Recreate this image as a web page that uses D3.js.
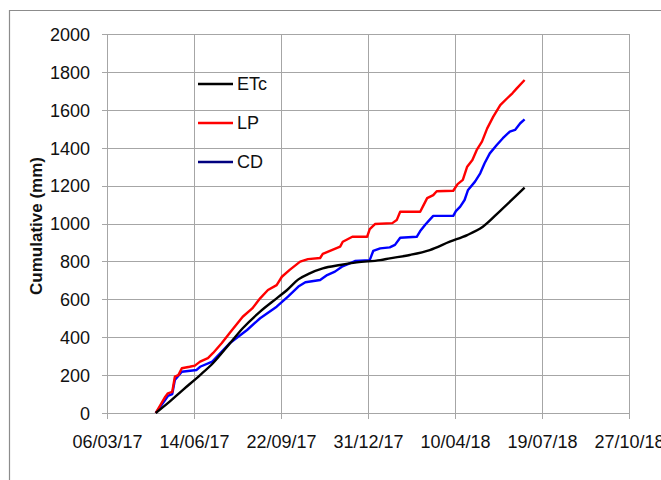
<!DOCTYPE html>
<html>
<head>
<meta charset="utf-8">
<script src="https://cdn.jsdelivr.net/npm/d3@7"></script>
<style>
  body { margin: 0; background: #fff; }
  svg text { font-family: "Liberation Sans Narrow", "Liberation Sans", sans-serif; fill: #111; }
</style>
</head>
<body>
<div id="chart"></div>
<script>
// values
const xTicks = ["2017-03-06", "2017-06-14", "2017-09-22", "2017-12-31", "2018-04-10", "2018-07-19", "2018-10-27"];
const yTicks = [0, 200, 400, 600, 800, 1000, 1200, 1400, 1600, 1800, 2000];
const seriesNames = ["ETc", "LP", "CD"];

const etc = [
  ["2017-05-01", 0], ["2017-05-17", 60], ["2017-06-01", 121], ["2017-06-21", 200], ["2017-07-06", 264],
  ["2017-07-25", 366], ["2017-08-09", 447], ["2017-08-29", 535], ["2017-09-17", 605], ["2017-09-29", 649],
  ["2017-10-12", 705], ["2017-10-25", 737], ["2017-11-09", 763], ["2017-11-29", 781], ["2017-12-18", 795],
  ["2018-01-14", 807], ["2018-01-25", 816], ["2018-02-17", 834], ["2018-03-12", 860], ["2018-04-04", 904],
  ["2018-04-24", 939], ["2018-05-12", 983], ["2018-06-01", 1067], ["2018-06-29", 1189]
];

const lp = [
  ["2017-05-01", 0], ["2017-05-12", 86], ["2017-05-15", 104], ["2017-05-20", 112], ["2017-05-23", 192],
  ["2017-05-27", 200], ["2017-05-31", 236], ["2017-06-09", 244], ["2017-06-15", 250], ["2017-06-21", 271],
  ["2017-06-30", 290], ["2017-07-06", 317], ["2017-07-16", 369], ["2017-07-25", 422], ["2017-08-09", 508],
  ["2017-08-20", 552], ["2017-08-29", 605], ["2017-09-07", 649], ["2017-09-17", 675], ["2017-09-23", 719],
  ["2017-10-02", 755], ["2017-10-14", 799], ["2017-10-23", 812], ["2017-11-06", 818], ["2017-11-09", 840],
  ["2017-11-29", 878], ["2017-12-02", 904], ["2017-12-13", 930], ["2017-12-30", 930], ["2018-01-02", 970],
  ["2018-01-08", 997], ["2018-01-28", 1002], ["2018-02-02", 1018], ["2018-02-06", 1062], ["2018-03-01", 1062],
  ["2018-03-04", 1089], ["2018-03-09", 1134], ["2018-03-16", 1150], ["2018-03-20", 1170], ["2018-04-08", 1173],
  ["2018-04-13", 1208], ["2018-04-19", 1230], ["2018-04-24", 1300], ["2018-04-30", 1335], ["2018-05-05", 1388],
  ["2018-05-11", 1432], ["2018-05-17", 1502], ["2018-05-24", 1564], ["2018-06-01", 1625], ["2018-06-09", 1661],
  ["2018-06-15", 1687], ["2018-06-20", 1713], ["2018-06-29", 1757]
];

const cd = [
  ["2017-05-01", 0], ["2017-05-12", 70], ["2017-05-15", 90], ["2017-05-20", 100], ["2017-05-23", 174],
  ["2017-05-31", 218], ["2017-06-17", 227], ["2017-06-21", 244], ["2017-07-05", 271], ["2017-07-25", 368],
  ["2017-08-14", 438], ["2017-08-29", 500], ["2017-09-17", 561], ["2017-09-30", 614], ["2017-10-12", 667],
  ["2017-10-20", 690], ["2017-11-06", 702], ["2017-11-14", 728], ["2017-11-23", 746], ["2017-12-01", 772],
  ["2017-12-10", 790], ["2017-12-16", 802], ["2018-01-02", 807], ["2018-01-06", 855], ["2018-01-14", 869],
  ["2018-01-25", 874], ["2018-01-31", 887], ["2018-02-06", 925], ["2018-02-25", 930], ["2018-03-01", 960],
  ["2018-03-07", 995], ["2018-03-11", 1015], ["2018-03-16", 1040], ["2018-04-08", 1040], ["2018-04-11", 1065],
  ["2018-04-16", 1089], ["2018-04-21", 1124], ["2018-04-25", 1177], ["2018-05-03", 1221], ["2018-05-09", 1265],
  ["2018-05-14", 1318], ["2018-05-20", 1370], ["2018-05-28", 1414], ["2018-06-04", 1450], ["2018-06-12", 1485],
  ["2018-06-18", 1494], ["2018-06-24", 1529], ["2018-06-29", 1550]
];

const parse = d3.timeParse("%Y-%m-%d");
const fmt = d3.timeFormat("%d/%m/%y");

const W = 661, H = 480;
const margin = { top: 34, right: 32, bottom: 67, left: 107 };
const width = W - margin.left - margin.right;
const height = H - margin.top - margin.bottom;

const svg = d3.select("#chart")
  .append("svg")
  .attr("width", W)
  .attr("height", H);

// outer frame (only top and left edges visible)
svg.append("path")
  .attr("d", `M9.5,${H} V10.5 H${W}`)
  .attr("fill", "none")
  .attr("stroke", "#8c8c8c")
  .attr("stroke-width", 1.2);

const g = svg.append("g")
  .attr("transform", `translate(${margin.left}, ${margin.top})`);

const x = d3.scaleTime()
  .domain([parse(xTicks[0]), parse(xTicks[xTicks.length - 1])])
  .range([0, width]);

const y = d3.scaleLinear()
  .domain([0, 2000])
  .range([height, 0]);

// grid
g.append("g")
  .selectAll("line")
  .data(yTicks)
  .enter()
  .append("line")
  .attr("x1", -5)
  .attr("x2", width)
  .attr("y1", (d) => Math.round(y(d)) + 0.5)
  .attr("y2", (d) => Math.round(y(d)) + 0.5)
  .attr("stroke", "#a6a6a6");

g.append("g")
  .selectAll("line")
  .data(xTicks)
  .enter()
  .append("line")
  .attr("x1", (d) => Math.round(x(parse(d))) + 0.5)
  .attr("x2", (d) => Math.round(x(parse(d))) + 0.5)
  .attr("y1", 0)
  .attr("y2", height + 6)
  .attr("stroke", "#a6a6a6");

// axes (labels only, lines drawn above)
const xAxis = g.append("g")
  .attr("transform", `translate(0, ${height})`)
  .call(d3.axisBottom(x).tickValues(xTicks.map(parse)).tickFormat(fmt).tickSize(0).tickPadding(22));
xAxis.select(".domain").remove();
xAxis.selectAll("text")
  .style("font-size", "18px");

const yAxis = g.append("g")
  .call(d3.axisLeft(y).tickValues(yTicks).tickFormat(d3.format("d")).tickSize(0).tickPadding(17));
yAxis.select(".domain").remove();
yAxis.selectAll("text")
  .style("font-size", "18px")
  .attr("dy", "0.35em");

// y title
svg.append("text")
  .attr("transform", "translate(42, 226) rotate(-90)")
  .attr("text-anchor", "middle")
  .style("font-size", "17px")
  .style("font-weight", "bold")
  .text("Cumulative (mm)");

// series
const colors = { ETc: "#000000", LP: "#ff0000", CD: "#0000ff" };
const legendColors = { ETc: "#000000", LP: "#ff0000", CD: "#00007f" };
const seriesData = { ETc: etc, LP: lp, CD: cd };

const lineSmooth = d3.line()
  .x((d) => x(parse(d[0])))
  .y((d) => y(d[1]))
  .curve(d3.curveMonotoneX);

const lineSteps = d3.line()
  .x((d) => x(parse(d[0])))
  .y((d) => y(d[1]));

["CD", "LP", "ETc"].forEach((name) => {
  g.append("path")
    .datum(seriesData[name])
    .attr("d", name === "ETc" ? lineSmooth : lineSteps)
    .attr("fill", "none")
    .attr("stroke", colors[name])
    .attr("stroke-width", 2.4)
    .attr("stroke-linejoin", "round");
});

// legend
const legend = svg.append("g");
seriesNames.forEach((name, i) => {
  const ly = 84 + i * 39;
  legend.append("line")
    .attr("x1", 198)
    .attr("x2", 233)
    .attr("y1", ly)
    .attr("y2", ly)
    .attr("stroke", legendColors[name])
    .attr("stroke-width", 2.4);
  legend.append("text")
    .attr("x", 237)
    .attr("y", ly)
    .attr("dy", "0.35em")
    .style("font-size", "18px")
    .text(name);
});
</script>
</body>
</html>
